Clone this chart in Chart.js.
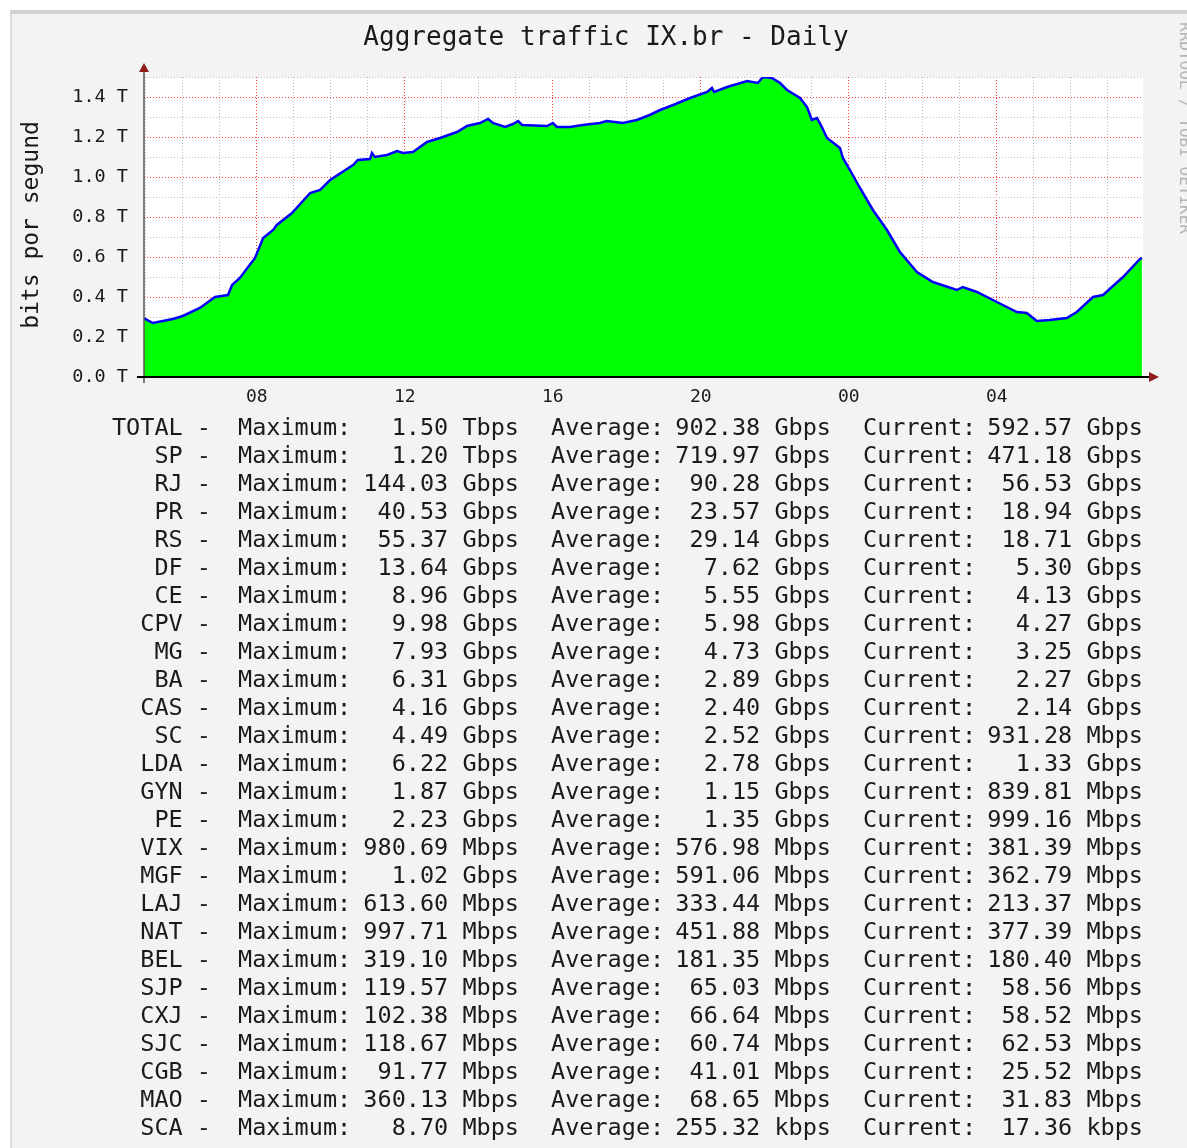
<!DOCTYPE html>
<html>
<head>
<meta charset="utf-8">
<title>Aggregate traffic IX.br - Daily</title>
<script src="https://cdn.jsdelivr.net/npm/chart.js@4.4.0/dist/chart.umd.min.js"></script>
<style>
  html, body { margin: 0; padding: 0; background: #fff; }
  canvas { display: block; }
</style>
</head>
<body>
<canvas id="graph" width="1187" height="1148"></canvas>
<script>
// Traffic samples: clock hour (past midnight continues as 24+) and value in Tbps
const hours = [
  4.95, 5.19, 5.46, 5.73, 6.00, 6.46, 6.87, 7.22, 7.33, 7.54,
  7.95, 8.17, 8.44, 8.54, 8.95, 9.44, 9.71, 9.98, 10.60, 10.73,
  11.06, 11.11, 11.19, 11.52, 11.79, 11.95, 12.22, 12.60, 12.95, 13.41,
  13.68, 14.03, 14.25, 14.38, 14.71, 14.92, 15.06, 15.17, 15.84, 16.00,
  16.11, 16.46, 16.81, 17.27, 17.46, 17.89, 18.27, 18.62, 18.90, 19.25,
  19.71, 20.17, 20.30, 20.36, 20.71, 21.25, 21.54, 21.68, 21.92, 22.14,
  22.33, 22.68, 22.87, 23.00, 23.14, 23.27, 23.41, 23.76, 23.84, 24.03,
  24.30, 24.65, 25.03, 25.38, 25.84, 26.27, 26.92, 27.08, 27.46, 28.00,
  28.54, 28.81, 29.08, 29.43, 29.89, 30.16, 30.60, 30.87, 31.41, 31.87,
  31.92
];
const traffic = [
  0.293, 0.270, 0.280, 0.290, 0.305, 0.345, 0.400, 0.410, 0.460, 0.495,
  0.595, 0.695, 0.735, 0.760, 0.820, 0.920, 0.935, 0.985, 1.060, 1.085,
  1.090, 1.120, 1.100, 1.110, 1.130, 1.120, 1.125, 1.175, 1.195, 1.225,
  1.255, 1.270, 1.290, 1.270, 1.250, 1.265, 1.280, 1.260, 1.255, 1.270,
  1.250, 1.250, 1.260, 1.270, 1.280, 1.270, 1.285, 1.310, 1.335, 1.360,
  1.395, 1.425, 1.445, 1.425, 1.450, 1.480, 1.470, 1.500, 1.495, 1.470,
  1.435, 1.395, 1.350, 1.285, 1.295, 1.250, 1.195, 1.145, 1.095, 1.035,
  0.945, 0.835, 0.735, 0.625, 0.525, 0.475, 0.435, 0.450, 0.425, 0.375,
  0.325, 0.320, 0.280, 0.285, 0.295, 0.325, 0.400, 0.410, 0.500, 0.590,
  0.595
];

// hour grid lines (labelled every 4 h) and traffic grid lines (labelled every 0.2 T)
const hourTicks = [5, 6, 7, 8, 9, 10, 11, 12, 13, 14, 15, 16, 17, 18, 19, 20, 21, 22, 23, 24, 25, 26, 27, 28, 29, 30, 31];
const trafficTicks = [0, 0.1, 0.2, 0.3, 0.4, 0.5, 0.6, 0.7, 0.8, 0.9, 1.0, 1.1, 1.2, 1.3, 1.4, 1.5];

// legend table
const sites = ['TOTAL', 'SP', 'RJ', 'PR', 'RS', 'DF', 'CE', 'CPV', 'MG', 'BA', 'CAS', 'SC', 'LDA',
  'GYN', 'PE', 'VIX', 'MGF', 'LAJ', 'NAT', 'BEL', 'SJP', 'CXJ', 'SJC', 'CGB', 'MAO', 'SCA'];
const maxValues = [1.50, 1.20, 144.03, 40.53, 55.37, 13.64, 8.96, 9.98, 7.93, 6.31, 4.16, 4.49, 6.22,
  1.87, 2.23, 980.69, 1.02, 613.60, 997.71, 319.10, 119.57, 102.38, 118.67, 91.77, 360.13, 8.70];
const maxUnits = ['T', 'T', 'G', 'G', 'G', 'G', 'G', 'G', 'G', 'G', 'G', 'G', 'G',
  'G', 'G', 'M', 'G', 'M', 'M', 'M', 'M', 'M', 'M', 'M', 'M', 'M'];
const avgValues = [902.38, 719.97, 90.28, 23.57, 29.14, 7.62, 5.55, 5.98, 4.73, 2.89, 2.40, 2.52, 2.78,
  1.15, 1.35, 576.98, 591.06, 333.44, 451.88, 181.35, 65.03, 66.64, 60.74, 41.01, 68.65, 255.32];
const avgUnits = ['G', 'G', 'G', 'G', 'G', 'G', 'G', 'G', 'G', 'G', 'G', 'G', 'G',
  'G', 'G', 'M', 'M', 'M', 'M', 'M', 'M', 'M', 'M', 'M', 'M', 'k'];
const curValues = [592.57, 471.18, 56.53, 18.94, 18.71, 5.30, 4.13, 4.27, 3.25, 2.27, 2.14, 931.28, 1.33,
  839.81, 999.16, 381.39, 362.79, 213.37, 377.39, 180.40, 58.56, 58.52, 62.53, 25.52, 31.83, 17.36];
const curUnits = ['G', 'G', 'G', 'G', 'G', 'G', 'G', 'G', 'G', 'G', 'G', 'M', 'G',
  'M', 'M', 'M', 'M', 'M', 'M', 'M', 'M', 'M', 'M', 'M', 'M', 'k'];

const MONO = '"DejaVu Sans Mono", "Liberation Mono", monospace';
const unitName = { T: 'Tbps', G: 'Gbps', M: 'Mbps', k: 'kbps' };
const RED_GRID = '#ff4040';
const GREY_GRID = '#bdbdbd';

function isMajorY(v) { return Math.round(v * 10) % 2 === 0; }
function isMajorX(v) { return Math.round(v) % 4 === 0; }

const rrdFrame = {
  id: 'rrdFrame',
  beforeDraw(chart) {
    const { ctx, chartArea: a } = chart;
    ctx.save();
    ctx.fillStyle = '#ffffff';
    ctx.fillRect(0, 0, chart.width, chart.height);
    ctx.fillStyle = '#dedede';
    ctx.fillRect(10, 10, chart.width, chart.height);
    ctx.fillStyle = '#d0d0d0';
    ctx.fillRect(10, 10, chart.width, 4);
    ctx.fillStyle = '#f3f3f3';
    ctx.fillRect(12, 14, chart.width, chart.height);
    ctx.fillStyle = '#ffffff';
    ctx.fillRect(a.left, a.top, a.right - a.left, a.bottom - a.top);
    ctx.restore();
  },
  afterDraw(chart) {
    const { ctx, chartArea: a } = chart;
    ctx.save();

    // axes
    ctx.strokeStyle = '#555';
    ctx.lineWidth = 1.5;
    ctx.beginPath();
    ctx.moveTo(a.left, a.bottom + 6);
    ctx.lineTo(a.left, a.top - 8);
    ctx.stroke();
    ctx.strokeStyle = '#000';
    ctx.lineWidth = 2;
    ctx.beginPath();
    ctx.moveTo(a.left - 7, a.bottom);
    ctx.lineTo(a.right + 7, a.bottom);
    ctx.stroke();

    // arrows
    ctx.fillStyle = '#8f1d1d';
    ctx.beginPath();
    ctx.moveTo(a.left, a.top - 14);
    ctx.lineTo(a.left - 5, a.top - 5);
    ctx.lineTo(a.left + 5, a.top - 5);
    ctx.closePath();
    ctx.fill();
    ctx.beginPath();
    ctx.moveTo(a.right + 16, a.bottom);
    ctx.lineTo(a.right + 6, a.bottom - 5);
    ctx.lineTo(a.right + 6, a.bottom + 5);
    ctx.closePath();
    ctx.fill();

    // title
    ctx.fillStyle = '#1a1a1a';
    ctx.font = '26px ' + MONO;
    ctx.textAlign = 'center';
    ctx.textBaseline = 'middle';
    ctx.fillText('Aggregate traffic IX.br - Daily', 606, 38);

    // y axis title
    ctx.save();
    ctx.translate(32, 225);
    ctx.rotate(-Math.PI / 2);
    ctx.font = '23px ' + MONO;
    ctx.fillText('bits por segund', 0, 0);
    ctx.restore();

    // watermark
    ctx.save();
    ctx.translate(1184, 22);
    ctx.rotate(Math.PI / 2);
    ctx.fillStyle = '#b4b4b4';
    ctx.font = '16px ' + MONO;
    ctx.textAlign = 'left';
    ctx.fillText('RRDTOOL / TOBI OETIKER', 0, 0);
    ctx.restore();

    // legend table
    ctx.font = '23.5px ' + MONO;
    ctx.fillStyle = '#1a1a1a';
    sites.forEach((s, i) => {
      const y = 429 + i * 28;
      ctx.textAlign = 'right';
      ctx.fillText(s + ' -', 211, y);
      ctx.fillText(maxValues[i].toFixed(2) + ' ' + unitName[maxUnits[i]], 519, y);
      ctx.fillText(avgValues[i].toFixed(2) + ' ' + unitName[avgUnits[i]], 831, y);
      ctx.fillText(curValues[i].toFixed(2) + ' ' + unitName[curUnits[i]], 1143, y);
      ctx.textAlign = 'left';
      ctx.fillText('Maximum:', 238, y);
      ctx.fillText('Average:', 551, y);
      ctx.fillText('Current:', 863, y);
    });
    ctx.restore();
  }
};

new Chart(document.getElementById('graph').getContext('2d'), {
  type: 'line',
  data: {
    datasets: [{
      data: hours.map((h, i) => ({ x: h, y: traffic[i] })),
      borderColor: '#0000ff',
      backgroundColor: '#00ff00',
      borderWidth: 2.5,
      fill: 'origin',
      pointRadius: 0,
      tension: 0
    }]
  },
  options: {
    responsive: false,
    animation: false,
    layout: { padding: { left: 0, top: 77, right: 44, bottom: 741 } },
    plugins: { legend: { display: false }, tooltip: { enabled: false } },
    scales: {
      x: {
        type: 'linear',
        min: 4.95,
        max: 31.95,
        afterBuildTicks: (scale) => { scale.ticks = hourTicks.map(v => ({ value: v })); },
        afterFit: (scale) => { scale.height = 30; },
        border: { display: false, dash: [1, 2] },
        grid: {
          drawTicks: false,
          color: (c) => isMajorX(c.tick.value) ? RED_GRID : GREY_GRID
        },
        ticks: {
          autoSkip: false,
          maxRotation: 0,
          padding: 10,
          color: '#1a1a1a',
          font: { family: MONO, size: 18 },
          callback: (v) => isMajorX(v) ? String(Math.round(v) % 24).padStart(2, '0') : ''
        }
      },
      y: {
        min: 0,
        max: 1.5,
        afterBuildTicks: (scale) => { scale.ticks = trafficTicks.map(v => ({ value: v })); },
        afterFit: (scale) => { scale.width = 144; },
        border: { display: false, dash: [1, 2] },
        grid: {
          drawTicks: false,
          color: (c) => isMajorY(c.tick.value) ? RED_GRID : GREY_GRID
        },
        ticks: {
          autoSkip: false,
          padding: 16,
          color: '#1a1a1a',
          font: { family: MONO, size: 18.5 },
          callback: (v) => (isMajorY(v) && v < 1.45) ? v.toFixed(1) + ' T' : ''
        }
      }
    }
  },
  plugins: [rrdFrame]
});
</script>
</body>
</html>
